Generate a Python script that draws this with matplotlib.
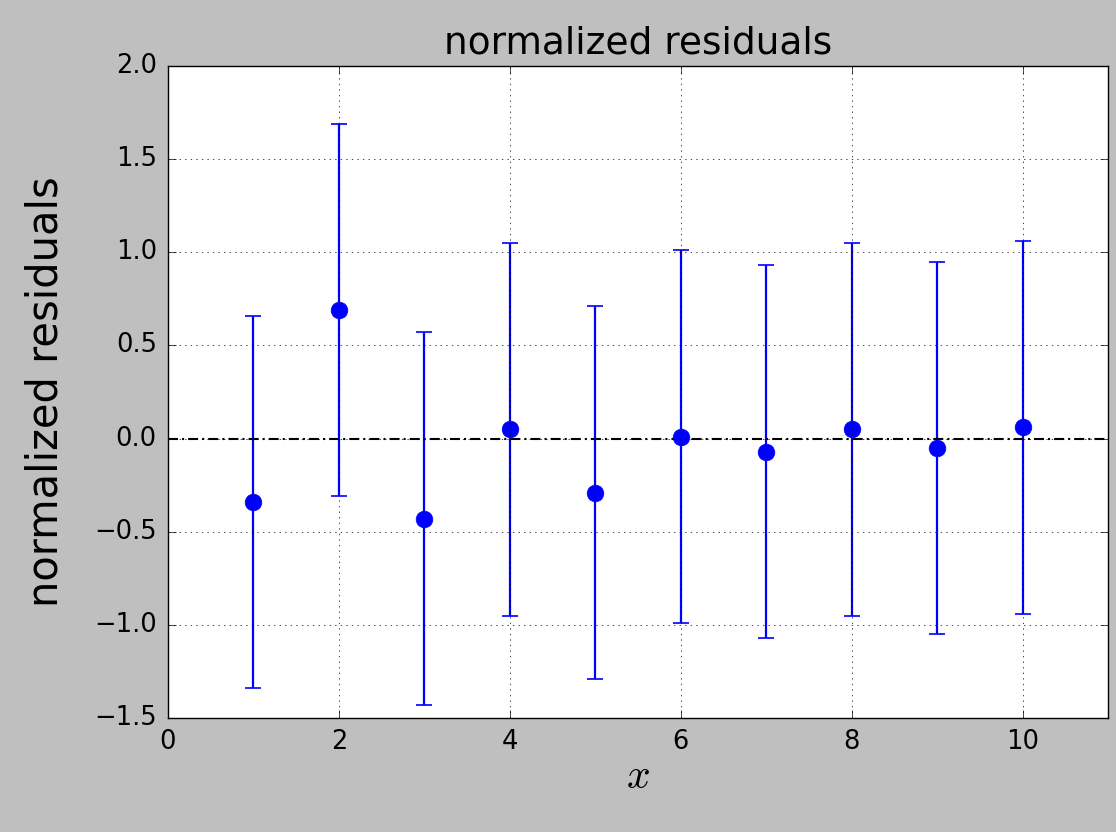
import numpy as np
import matplotlib.pyplot as plt

plt.style.use('classic')

# residuals normalized by their uncertainty
x = np.arange(1, 11)
residuals = [-0.34, 0.69, -0.43, 0.05, -0.29, 0.01, -0.07, 0.05, -0.05, 0.06]
errors = [1.0] * 10

fig = plt.figure(figsize=(11.16, 8.32), dpi=100, facecolor='0.75')
ax = fig.add_axes([0.1505, 0.137, 0.8423, 0.7837])

ax.errorbar(x, residuals, yerr=errors, fmt='o', color='b', ecolor='b',
            markersize=12, elinewidth=1.6, capsize=6, capthick=1.2, mec='b')
ax.axhline(0, color='k', linewidth=1.5,
           linestyle=(0, (7.2, 2.9, 1.5, 2.9)))

ax.set_xlim(0, 11)
ax.set_ylim(-1.5, 2.0)
ax.set_xticks([0, 2, 4, 6, 8, 10])
ax.set_yticks(np.arange(-1.5, 2.01, 0.5))
ax.grid(True)
ax.tick_params(labelsize=18.5, length=6, pad=8)

ax.set_title('normalized residuals', fontsize=27, pad=9)
ax.set_ylabel('normalized residuals', fontsize=30, labelpad=20)
ax.set_xlabel('$x$', fontsize=30, labelpad=0)

fig.savefig('out.png', dpi=100, facecolor=fig.get_facecolor())
